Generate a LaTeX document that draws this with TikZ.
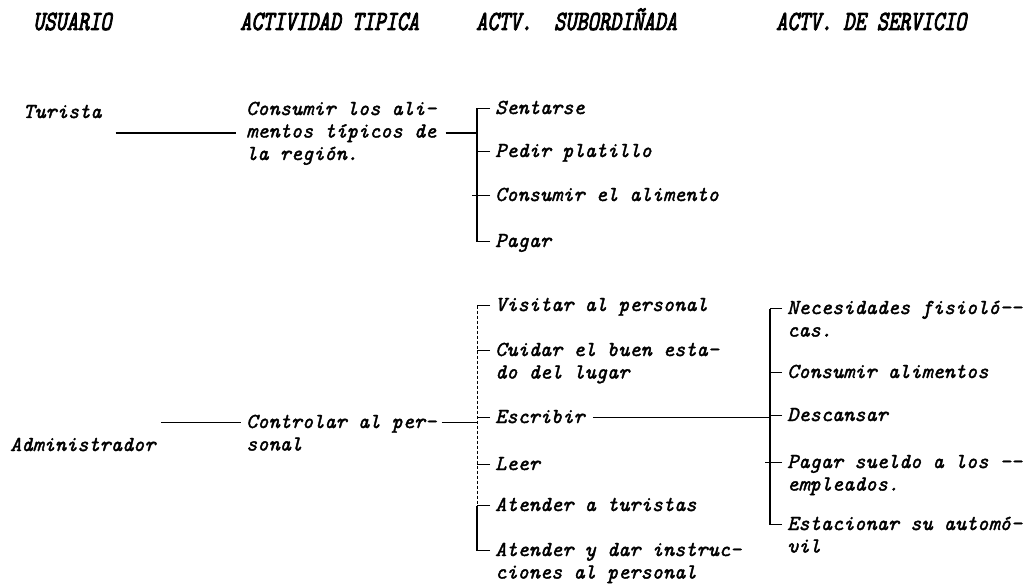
\documentclass[tikz,border=0pt]{standalone}
\usepackage{fontspec}
\usepackage{graphicx}
\usepackage{tikz}
\usetikzlibrary{calc}
\newfontfamily\bodyfont{lmmono10-italic}[Extension=.otf, FakeBold=1.8]
\newfontfamily\headfont{lmmono10-italic}[Extension=.otf, FakeBold=3.5]
\newcommand{\headtext}[1]{\scalebox{1}[1.3]{#1}}
\newcommand{\lines}[1]{\begin{tabular}[t]{@{}l@{}}#1\end{tabular}}

\begin{document}
\begin{tikzpicture}[x=1pt, y=-1pt,
        head/.style={anchor=base west, inner sep=0pt, font=\headfont\fontsize{21.3}{22.5}\selectfont},
        txt/.style={anchor=base west, inner xsep=5pt, inner ysep=1pt, font=\bodyfont\fontsize{21.3}{22.5}\selectfont},
        link/.style={line width=1.3pt},
        lvl/.style={yshift=5.5pt}]
    \useasboundingbox (0,0) rectangle (1027,588);
    % column heads
    \node[head] (hdusr) at (33,30)  {\headtext{USUARIO}};
    \node[head] (hdtip) at (240,30) {\headtext{ACTIVIDAD TIPICA}};
    \node[head] (hdsub) at (476,30) {\headtext{ACTV.\hspace{22pt}SUBORDIÑADA}};
    \node[head] (hdser) at (776,30) {\headtext{ACTV. DE SERVICIO}};
    % users and typical activities
    \node[txt] (turista) at (18,118)  {Turista};
    \node[txt] (tipica)  at (241,115) {\lines{Consumir los ali-\\mentos típicos de\\la región.}};
    \node[txt] (admin)   at (5,451)   {Administrador};
    \node[txt] (ctrl)    at (241,428) {\lines{Controlar al per-\\sonal}};
    % subordinate activities
    \node[txt] (sent)     at (490,114) {Sentarse};
    \node[txt] (pedir)    at (490,157) {Pedir platillo};
    \node[txt] (consal)   at (490,201) {Consumir el alimento};
    \node[txt] (pagar)    at (490,247) {Pagar};
    \node[txt] (visit)    at (490,311) {Visitar al personal};
    \node[txt] (cuidar)   at (490,356) {\lines{Cuidar el buen esta-\\do del lugar}};
    \node[txt] (escribir) at (490,423) {Escribir};
    \node[txt] (leer)     at (490,470) {Leer};
    \node[txt] (turistas) at (490,511) {Atender a turistas};
    \node[txt] (instr)    at (490,556) {\lines{Atender y dar instruc-\\ciones al personal}};
    % service activities
    \node[txt] (necesid)    at (782,314) {\lines{Necesidades fisioló--\\cas.}};
    \node[txt] (consal2)    at (782,378) {Consumir alimentos};
    \node[txt] (descansar)  at (782,421) {Descansar};
    \node[txt] (sueldo)     at (782,468) {\lines{Pagar sueldo a los --\\empleados.}};
    \node[txt] (estacionar) at (782,530) {\lines{Estacionar su automó-\\vil}};
    % bracket columns
    \coordinate (b1) at (477,0);
    \coordinate (b3) at (770,0);
    \coordinate (ctrlin) at ([lvl]ctrl.base west);
    % connectors
    \draw[link, shorten <=9pt, shorten >=5pt] (turista.east |- tipica.west) -- (tipica.west);
    \draw[link, shorten <=4pt] (tipica.east) -- (tipica.east -| b1);
    \draw[link] (admin.east |- ctrlin) -- (ctrlin);
    \draw[link] (ctrlin -| ctrl.east) -- (ctrlin -| b1);
    \draw[link, shorten <=3pt] ([lvl]escribir.base east) -- ([lvl]escribir.base east -| b3);
    \foreach \n in {sent,pedir,consal,pagar,visit,cuidar,escribir,leer,turistas,instr}
        \draw[link] ([lvl]\n.base west) -- ([lvl]\n.base west -| b1);
    \foreach \n in {necesid,consal2,descansar,sueldo,estacionar}
        \draw[link] ([lvl]\n.base west) -- ([lvl]\n.base west -| b3);
    \foreach \n/\b in {consal/b1,sueldo/b3}
        \draw[link] ([lvl]\n.base west -| \b) -- ++(-5,0);
    \draw[link] ([lvl]sent.base west -| b1) -- ([lvl]pagar.base west -| b1);
    \draw[line width=0.8pt, densely dashed] ([lvl]visit.base west -| b1) -- ([lvl]turistas.base west -| b1);
    \draw[link] ([lvl]turistas.base west -| b1) -- ([lvl]instr.base west -| b1);
    \draw[link] ([lvl]necesid.base west -| b3) -- ([lvl]estacionar.base west -| b3);
\end{tikzpicture}
\end{document}
